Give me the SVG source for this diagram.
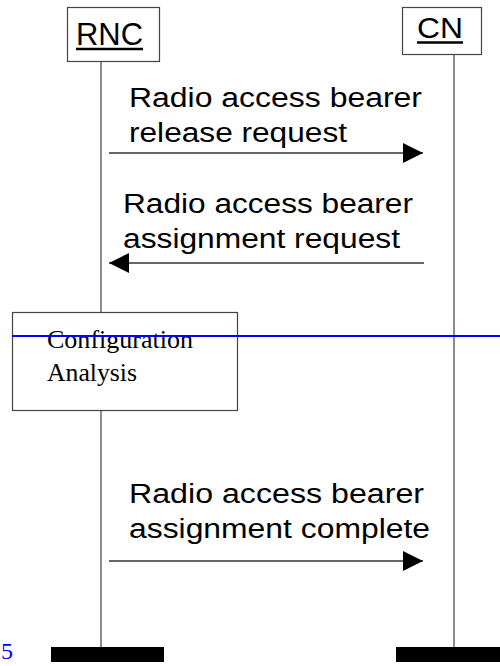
<svg xmlns="http://www.w3.org/2000/svg" width="500" height="666" viewBox="0 0 500 666">
  <style>
    .lbl { font-family: "Liberation Sans", Arial, sans-serif; fill: #000; }
    .msg { font-family: "Liberation Sans", Arial, sans-serif; font-size: 27px; fill: #000; }
    .note { font-family: "Liberation Serif", "Times New Roman", serif; font-size: 26px; fill: #000; }
    .box { fill: #fff; stroke: #444; stroke-width: 1.2; }
    .life { stroke: #666; stroke-width: 1.5; fill: none; }
    .arrow { stroke: #333; stroke-width: 1.5; fill: none; }
    .ul { stroke: #000; stroke-width: 2.5; }
    .bar { fill: #000; }
  </style>
  <defs>
    <marker id="head" markerWidth="20" markerHeight="20" viewBox="0 0 20 20" refX="20" refY="10" markerUnits="userSpaceOnUse" orient="auto">
      <path d="M0,0 L20,10 L0,20 Z" fill="#000"/>
    </marker>
  </defs>

  <rect width="500" height="666" fill="#fff"/>

  <!-- lifelines -->
  <g id="lifelines">
    <line class="life" x1="101" y1="61" x2="101" y2="648"/>
    <line class="life" x1="454" y1="55" x2="454" y2="648" stroke="#444"/>
  </g>

  <!-- RNC header -->
  <g id="rnc">
    <rect class="box" x="67.5" y="7.5" width="92" height="54"/>
    <text class="lbl" x="76" y="45" font-size="31" textLength="67" lengthAdjust="spacingAndGlyphs">RNC</text>
    <line class="ul" x1="76" y1="49" x2="143" y2="49"/>
    <rect class="bar" x="51" y="647" width="113" height="15"/>
  </g>

  <!-- CN header -->
  <g id="cn">
    <rect class="box" x="402.5" y="7.5" width="79" height="47"/>
    <text class="lbl" x="417" y="38" font-size="30" textLength="46" lengthAdjust="spacingAndGlyphs">CN</text>
    <line class="ul" x1="417" y1="42.5" x2="463" y2="42.5"/>
    <rect class="bar" x="396" y="647" width="110" height="15"/>
  </g>

  <!-- messages -->
  <g id="connectors">
    <line class="arrow" x1="109" y1="153" x2="423" y2="153" marker-end="url(#head)"/>
    <line class="arrow" x1="424" y1="263" x2="109" y2="263" marker-end="url(#head)"/>
    <line class="arrow" x1="109" y1="561" x2="423" y2="561" marker-end="url(#head)"/>
  </g>

  <g id="msg-release">
    <text class="msg" x="129" y="107" textLength="293" lengthAdjust="spacingAndGlyphs">Radio access bearer</text>
    <text class="msg" x="129" y="142" textLength="218" lengthAdjust="spacingAndGlyphs">release request</text>
  </g>
  <g id="msg-assign-req">
    <text class="msg" x="123" y="213" textLength="290" lengthAdjust="spacingAndGlyphs">Radio access bearer</text>
    <text class="msg" x="123" y="248" textLength="277" lengthAdjust="spacingAndGlyphs">assignment request</text>
  </g>
  <g id="msg-assign-complete">
    <text class="msg" x="129" y="503" textLength="295" lengthAdjust="spacingAndGlyphs">Radio access bearer</text>
    <text class="msg" x="129" y="538" textLength="301" lengthAdjust="spacingAndGlyphs">assignment complete</text>
  </g>

  <!-- local action box -->
  <g id="config-analysis">
    <rect class="box" x="12.5" y="312.5" width="225" height="98"/>
    <text class="note" x="47" y="348" textLength="146" lengthAdjust="spacingAndGlyphs">Configuration</text>
    <text class="note" x="47" y="381" textLength="90" lengthAdjust="spacingAndGlyphs">Analysis</text>
  </g>

  <!-- blue rule and page number -->
  <line x1="12" y1="336" x2="500" y2="336" stroke="#0000ff" stroke-width="2"/>
  <text x="1" y="659" font-family="Liberation Serif, 'Times New Roman', serif" font-size="24" fill="#0000ff">5</text>
</svg>
